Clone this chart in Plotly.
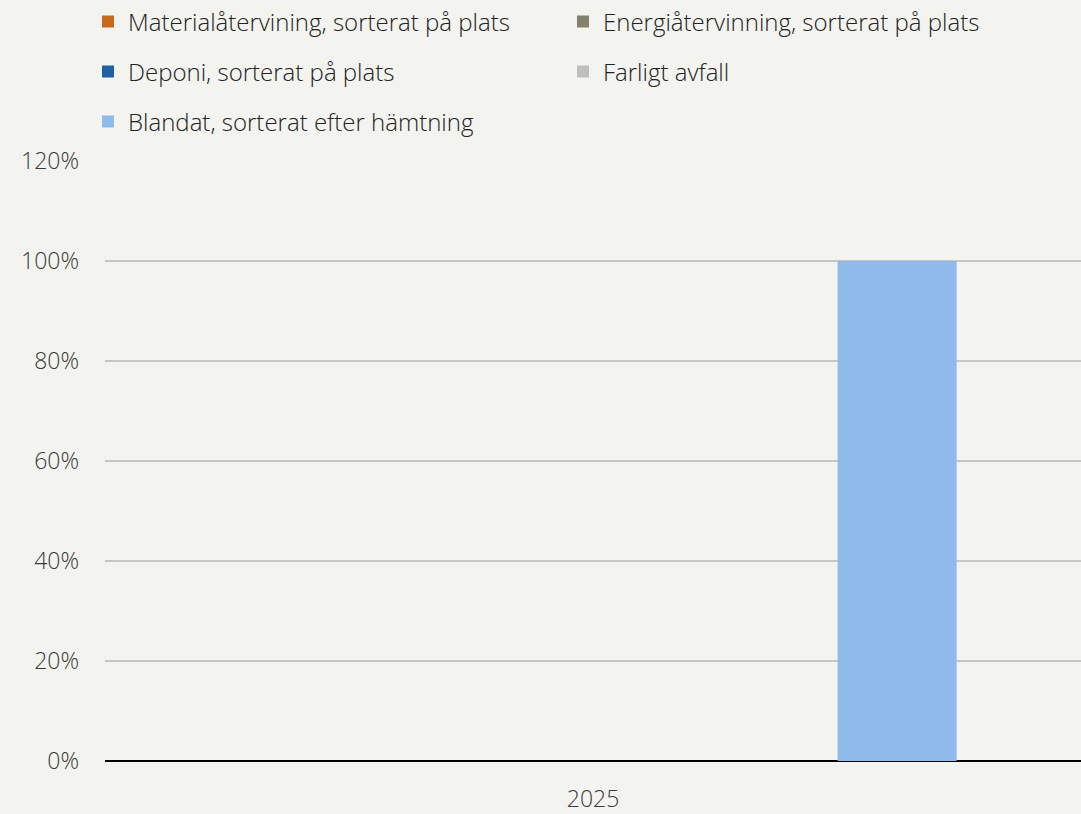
import plotly.graph_objects as go

categories = ["2025"]
series_names = [
    "Materialåtervining, sorterat på plats",
    "Energiåtervinning, sorterat på plats",
    "Deponi, sorterat på plats",
    "Farligt avfall",
    "Blandat, sorterat efter hämtning",
]
series_values = [
    [0.0],
    [0.0],
    [0.0],
    [0.0],
    [1.0],
]
series_colors = ["#c8691c", "#85826b", "#1f5fa6", "#bfbfbf", "#8fbaeb"]
legend_groups = ["legend", "legend", "legend2", "legend2", "legend3"]
y_tickvals = [0, 0.2, 0.4, 0.6, 0.8, 1.0, 1.2]
y_ticktext = ["0%", "20%", "40%", "60%", "80%", "100%", "120%"]

FONT = "Open Sans"
fig = go.Figure()
for name, vals, col, lg in zip(series_names, series_values, series_colors, legend_groups):
    fig.add_trace(go.Bar(x=categories, y=vals, name=name, marker_color=col,
                         marker_line_width=0, legend=lg))

bg = "#f3f3ef"
W, H = 1081, 814
def leg(ypix):
    return dict(orientation="h", xref="container", yref="container",
                x=88 / W, y=1 - ypix / H, xanchor="left", yanchor="middle",
                entrywidth=430, entrywidthmode="pixels", itemwidth=30,
                font=dict(family=FONT, size=24, color="#222222", weight=300),
                bgcolor="rgba(0,0,0,0)", traceorder="normal")

fig.update_layout(
    width=W, height=H,
    paper_bgcolor=bg, plot_bgcolor=bg,
    margin=dict(l=105, r=0, t=161, b=53),
    barmode="group", bargap=0.221, bargroupgap=0.217,
    showlegend=True,
    legend=leg(22), legend2=leg(72), legend3=leg(122),
    font=dict(family=FONT, size=23, color="#3a3a3a", weight=300),
    xaxis=dict(showgrid=False, showline=False, ticks="", ticklabelstandoff=22,
               tickfont=dict(family=FONT, size=23, color="#3a3a3a", weight=300)),
    yaxis=dict(range=[0, 1.2], tickvals=y_tickvals, ticktext=y_ticktext,
               showgrid=True, gridcolor="#c6c6c4", gridwidth=2,
               zeroline=True, zerolinecolor="#000000", zerolinewidth=2,
               showline=False, ticks="", ticklabelstandoff=25,
               tickfont=dict(family=FONT, size=23, color="#3a3a3a", weight=300)),
)
fig.write_html(
    "out.html",
    config={"displayModeBar": False},
    post_script="document.body.style.margin='0';document.body.style.background='%s';" % bg,
)
